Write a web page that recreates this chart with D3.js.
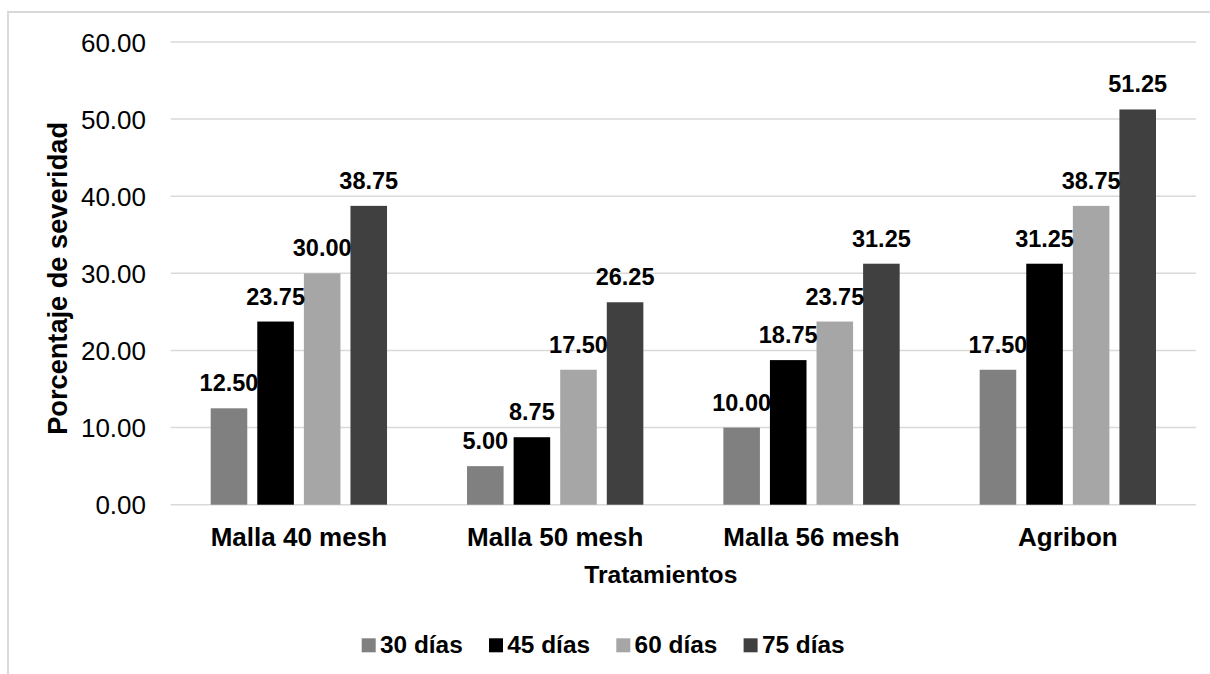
<!DOCTYPE html>
<html>

<head>
  <meta charset="utf-8">
  <title>Porcentaje de severidad</title>
  <script src="https://cdn.jsdelivr.net/npm/d3@7"></script>
  <style>
    body { margin: 0; background: #fff; }
    text { font-family: Arial, "Liberation Sans", sans-serif; fill: #000; }
  </style>
</head>

<body>
  <svg width="1210" height="674" id="mainsvg"></svg>
  <script>
    // datos del grafico
    const categories = ['Malla 40 mesh', 'Malla 50 mesh', 'Malla 56 mesh', 'Agribon'];
    const seriesNames = ['30 días', '45 días', '60 días', '75 días'];
    const dias30 = [12.50, 5.00, 10.00, 17.50];
    const dias45 = [23.75, 8.75, 18.75, 31.25];
    const dias60 = [30.00, 17.50, 23.75, 38.75];
    const dias75 = [38.75, 26.25, 31.25, 51.25];
    const yTicks = [0, 10, 20, 30, 40, 50, 60];

    const seriesValues = [dias30, dias45, dias60, dias75];
    const colors = ['#808080', '#000000', '#a6a6a6', '#404040'];

    const svg = d3.select('#mainsvg');
    const width = +svg.attr('width');
    const height = +svg.attr('height');
    const margin = { top: 42, right: 14, bottom: 169.3, left: 170.7 };

    // borde del area del grafico
    svg.append('rect')
      .attr('x', 8).attr('y', 12)
      .attr('width', width + 20).attr('height', height + 20)
      .attr('fill', 'none').attr('stroke', '#d9d9d9').attr('stroke-width', 2);

    const yScale = d3.scaleLinear()
      .domain([0, 60])
      .range([height - margin.bottom, margin.top]);

    const x0 = d3.scaleBand()
      .domain(categories)
      .range([margin.left, width - margin.right]);

    const x1 = d3.scaleBand()
      .domain(seriesNames)
      .range([40, x0.bandwidth() - 40])
      .paddingInner(0.215);

    const color = d3.scaleOrdinal().domain(seriesNames).range(colors);

    // lineas de cuadricula
    svg.append('g').selectAll('line').data(yTicks).join('line')
      .attr('x1', margin.left).attr('x2', width - margin.right)
      .attr('y1', d => yScale(d)).attr('y2', d => yScale(d))
      .attr('stroke', '#d9d9d9').attr('stroke-width', 1.5);

    // etiquetas eje y
    svg.append('g').selectAll('text').data(yTicks).join('text')
      .attr('x', 146).attr('y', d => yScale(d) + 9.5)
      .attr('text-anchor', 'end')
      .style('font-size', '26px')
      .text(d => d3.format('.2f')(d));

    const data = categories.map((c, i) => ({
      category: c,
      values: seriesNames.map((s, j) => ({ key: s, value: seriesValues[j][i] }))
    }));

    const groups = svg.append('g').selectAll('.datagroup').data(data).join('g')
      .attr('class', 'datagroup')
      .attr('transform', d => `translate(${x0(d.category)},0)`);

    groups.selectAll('rect').data(d => d.values).join('rect')
      .attr('x', d => x1(d.key))
      .attr('y', d => yScale(d.value))
      .attr('width', x1.bandwidth())
      .attr('height', d => yScale(0) - yScale(d.value))
      .attr('fill', d => color(d.key));

    groups.selectAll('text').data(d => d.values).join('text')
      .attr('x', d => x1(d.key) + x1.bandwidth() / 2)
      .attr('y', d => yScale(d.value) - 17)
      .attr('text-anchor', 'middle')
      .style('font-size', '23.5px').style('font-weight', 'bold')
      .text(d => d3.format('.2f')(d.value));

    // etiquetas de categorias
    svg.append('g').selectAll('text').data(categories).join('text')
      .attr('x', d => x0(d) + x0.bandwidth() / 2)
      .attr('y', yScale(0) + 41)
      .attr('text-anchor', 'middle')
      .style('font-size', '26px').style('font-weight', 'bold')
      .text(d => d);

    // titulos de ejes
    svg.append('text')
      .attr('x', 660.8).attr('y', 583.3)
      .attr('text-anchor', 'middle')
      .style('font-size', '24.6px').style('font-weight', 'bold')
      .text('Tratamientos');

    svg.append('text')
      .attr('transform', 'translate(67,278.4) rotate(-90)')
      .attr('text-anchor', 'middle')
      .style('font-size', '27.2px').style('font-weight', 'bold')
      .text('Porcentaje de severidad');

    // leyenda
    const legend = svg.append('g').selectAll('g').data(seriesNames).join('g')
      .attr('transform', (d, i) => `translate(${361.7 + i * 127.3},638.3)`);
    legend.append('rect')
      .attr('width', 14).attr('height', 14)
      .attr('fill', d => color(d));
    legend.append('text')
      .attr('x', 18.3).attr('y', 15)
      .style('font-size', '24.4px').style('font-weight', 'bold')
      .text(d => d);
  </script>
</body>

</html>
